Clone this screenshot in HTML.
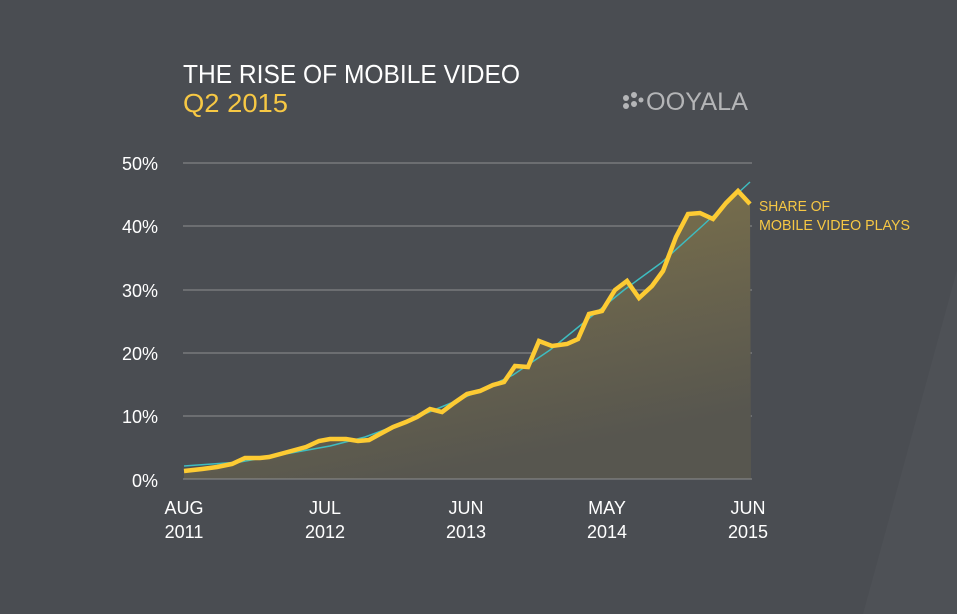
<!DOCTYPE html>
<html><head><meta charset="utf-8"><style>
html,body{margin:0;padding:0;background:#4a4d52;}
svg{display:block;}
text{font-family:"Liberation Sans",sans-serif;}
</style></head><body>
<svg width="957" height="614" viewBox="0 0 957 614" xmlns="http://www.w3.org/2000/svg">
<defs>
<linearGradient id="g" x1="0" y1="0" x2="0.4" y2="1">
<stop offset="0" stop-color="#85784a"/>
<stop offset="1" stop-color="#57564f"/>
</linearGradient>
</defs>
<rect width="957" height="614" fill="#4a4d52"/>
<polygon points="957,270 957,614 863,614" fill="#4e5156"/>
<text x="183" y="83" font-size="26" fill="#ffffff" textLength="337" lengthAdjust="spacingAndGlyphs">THE RISE OF MOBILE VIDEO</text>
<text x="183" y="112" font-size="26" fill="#f7c844" textLength="105" lengthAdjust="spacingAndGlyphs">Q2 2015</text>
<g fill="#b4b5b7">
<circle cx="626" cy="98" r="3"/><circle cx="634" cy="95" r="3"/><circle cx="634" cy="104" r="3"/><circle cx="626" cy="106" r="3"/><circle cx="641" cy="100" r="2.5"/>
</g>
<text x="646" y="110" font-size="25" fill="#b4b5b7" textLength="102" lengthAdjust="spacingAndGlyphs">OOYALA</text>
<g stroke="#8e8f90" stroke-width="1">
<line x1="183" y1="163" x2="752" y2="163"/>
<line x1="183" y1="226" x2="752" y2="226"/>
<line x1="183" y1="290" x2="752" y2="290"/>
<line x1="183" y1="353" x2="752" y2="353"/>
<line x1="183" y1="416" x2="752" y2="416"/>
</g>
<polygon fill="url(#g)" points="184,471 202,469 217,467 232,464 245,458 260,458 269,457 284,453 295,450 306,447 319,441 330,439 346,439 358,441 369,440 380,434 393,427 406,422 417,417 430,409 442,412 454,403 467,394 480,391 493,385 504,382 515,366 528,367 539,341 552,346 567,344 578,339 589,314 602,311 615,290 627,281 639,298 652,286 663,271 676,237 688,214 700,213 713,219 726,203 738,191 750,204 751,479 184,479"/>
<line x1="183" y1="479" x2="752" y2="479" stroke="#8e8f90" stroke-width="1"/>
<polyline fill="none" stroke="#3ebcc0" stroke-width="1.5" points="184,466 240,462 291,453 330,446 365,437 400,424 439,408 475,393 513,375 550,350 587,320 624,290 661,263 700,228 750,182"/>
<polyline fill="none" stroke="#fdcb33" stroke-width="4.5" stroke-linejoin="miter" points="184,471 202,469 217,467 232,464 245,458 260,458 269,457 284,453 295,450 306,447 319,441 330,439 346,439 358,441 369,440 380,434 393,427 406,422 417,417 430,409 442,412 454,403 467,394 480,391 493,385 504,382 515,366 528,367 539,341 552,346 567,344 578,339 589,314 602,311 615,290 627,281 639,298 652,286 663,271 676,237 688,214 700,213 713,219 726,203 738,191 750,204"/>
<g font-size="18" fill="#ffffff" text-anchor="end">
<text x="158" y="170">50%</text>
<text x="158" y="233">40%</text>
<text x="158" y="297">30%</text>
<text x="158" y="360">20%</text>
<text x="158" y="423">10%</text>
<text x="158" y="487">0%</text>
</g>
<g font-size="18" fill="#ffffff" text-anchor="middle">
<text x="184" y="514">AUG</text><text x="184" y="538">2011</text>
<text x="325" y="514">JUL</text><text x="325" y="538">2012</text>
<text x="466" y="514">JUN</text><text x="466" y="538">2013</text>
<text x="607" y="514">MAY</text><text x="607" y="538">2014</text>
<text x="748" y="514">JUN</text><text x="748" y="538">2015</text>
</g>
<g font-size="15" fill="#f7c844">
<text x="759" y="211" textLength="71" lengthAdjust="spacingAndGlyphs">SHARE OF</text>
<text x="759" y="230" textLength="151" lengthAdjust="spacingAndGlyphs">MOBILE VIDEO PLAYS</text>
</g>
</svg>
</body></html>
